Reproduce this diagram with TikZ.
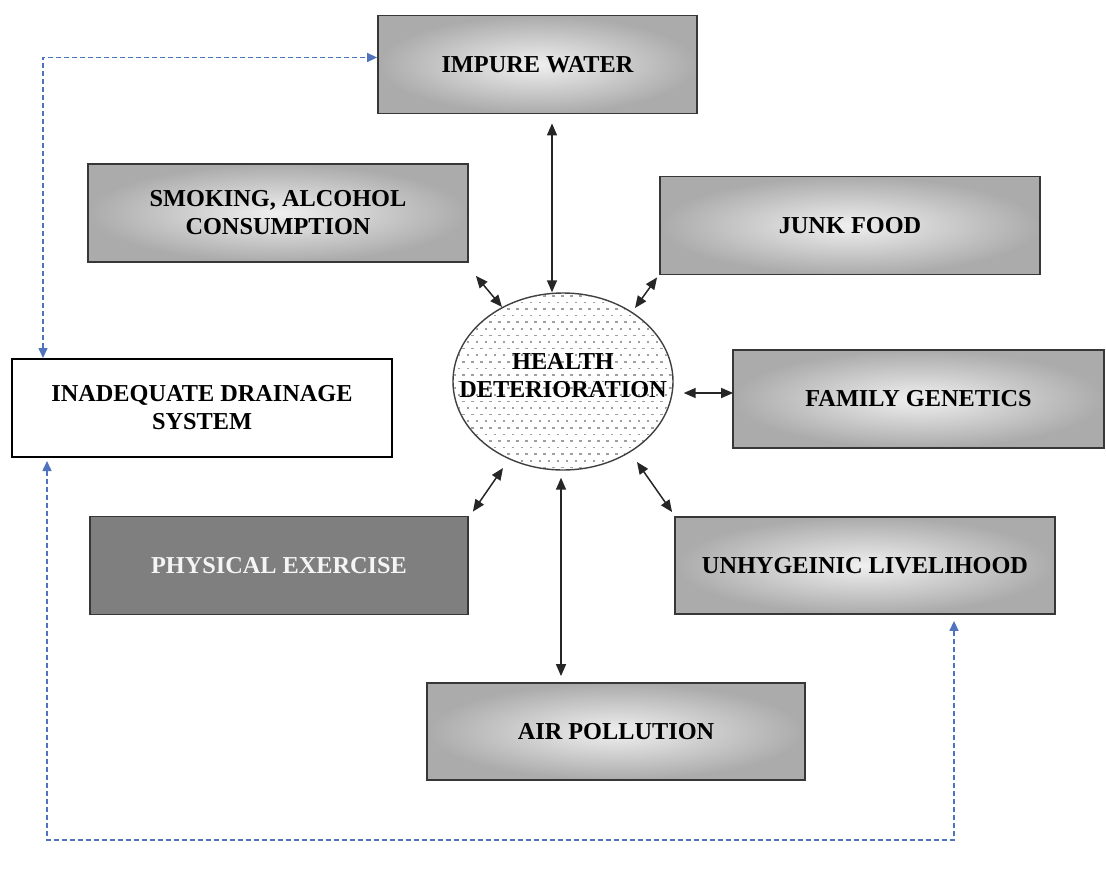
\documentclass[tikz,border=0pt]{standalone}
\usepackage{fontspec}
\setmainfont{Liberation Serif}
\usetikzlibrary{shapes.geometric,arrows.meta,calc}
\definecolor{bluedash}{RGB}{80,115,190}
\definecolor{boxedge}{RGB}{55,55,55}
\definecolor{darkfill}{RGB}{127,127,127}
\begin{document}
\begin{tikzpicture}[x=1pt,y=-1pt,
  every node/.style={font=\fontsize{24.3}{28}\selectfont\bfseries, align=center, inner sep=0pt},
  gbox/.style={rectangle, draw=boxedge, line width=1.8pt, inner color=gray!12, outer color=gray!66,
    minimum width=380pt, minimum height=98pt},
  wbox/.style={rectangle, draw=black, line width=2pt, fill=white,
    minimum width=380pt, minimum height=98pt},
  dbox/.style={rectangle, draw=boxedge, line width=1.8pt, fill=darkfill, text=gray!8,
    minimum width=378pt, minimum height=98pt},
  dbl/.style={{Triangle[length=12pt,width=10pt]}-{Triangle[length=12pt,width=10pt]}, line width=1.5pt, draw=black!85},
  bl/.style={draw=bluedash, line width=1.5pt, dash pattern=on 5pt off 3pt,
    {Triangle[length=10pt,width=9pt]}-{Triangle[length=10pt,width=9pt]}}
]
\useasboundingbox (0,0) rectangle (1106,871);

% boxes
\node[gbox, minimum width=319pt] (water) at (537.5,64.5) {IMPURE WATER};
\node[gbox] (smoke) at (278,213) {SMOKING, ALCOHOL\\CONSUMPTION};
\node[gbox] (junk) at (850,225.5) {JUNK FOOD};
\node[gbox, minimum width=371pt] (family) at (918.5,399) {FAMILY GENETICS};
\node[wbox] (drain) at (202,408) {INADEQUATE DRAINAGE\\SYSTEM};
\node[dbox] (phys) at (279,565.5) {PHYSICAL EXERCISE};
\node[gbox, minimum height=97pt] (unhyg) at (865,565.5) {UNHYGEINIC LIVELIHOOD};
\node[gbox, minimum width=378pt, minimum height=97pt] (air) at (616,731.5) {AIR POLLUTION};

% central ellipse with dot pattern
\coordinate (ec) at (563,381.5);
\begin{scope}
  \clip (ec) ellipse [x radius=109pt, y radius=87.5pt];
  \foreach \i in {0,...,27}{
    \foreach \j in {0,...,25}{
      \fill[gray!75] ({453+\j*9+mod(\i,2)*4.5},{295+\i*6.6}) rectangle ++(2.8,1.5);
    }
  }
\end{scope}
\node[ellipse, draw=black!75, line width=1.4pt, minimum width=220pt, minimum height=177pt] (ell) at (ec) {};
\node (elltext) at ($(ec)+(0,-6)$) {HEALTH\\DETERIORATION};

% black double arrows
\draw[dbl] ($(water.south)+(14.5,9)$) -- ($(ell.north)+(-11,0)$);
\draw[dbl] ($(smoke.south east)+(7,13)$) -- ($(ell.center)+(-61,-74.5)$);
\draw[dbl] ($(junk.south west)+(-2,2)$) -- ($(ell.center)+(72,-73.5)$);
\draw[dbl] ($(ell.east)+(10,11.5)$) -- ($(family.west)+(1,-6)$);
\draw[dbl] ($(phys.north east)+(4,-4)$) -- ($(ell.center)+(-60,86.5)$);
\draw[dbl] ($(unhyg.north west)+(-2,-4)$) -- ($(ell.center)+(74,80.5)$);
\draw[dbl] ($(ell.south)+(-2,7)$) -- ($(air.north)+(-55,-6)$);

% blue dashed feedback paths
\draw[bl] ($(drain.north west)+(32,0)$) |- ($(water.west)+(0,-7)$);
\coordinate (br) at (954,840);
\draw[bl] ($(drain.south west)+(36,3)$) |- (br) -- ($(unhyg.south)+(89,6)$);
\end{tikzpicture}
\end{document}
